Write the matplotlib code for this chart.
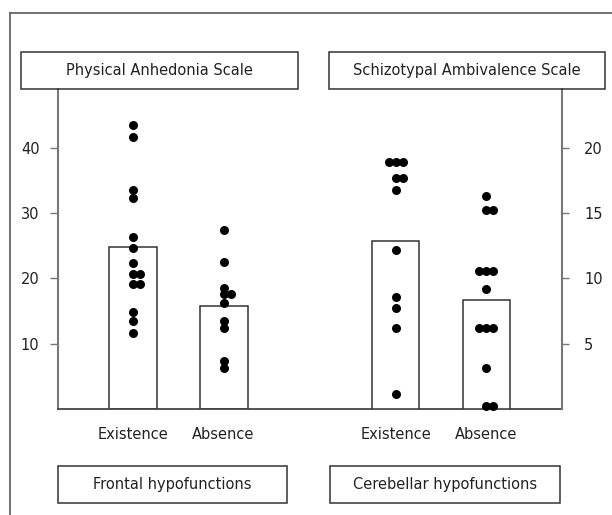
import matplotlib
matplotlib.use('Agg')
import matplotlib.pyplot as plt
from matplotlib.patches import Rectangle
from matplotlib.lines import Line2D
import numpy as np

# values
groups = ['Existence', 'Absence', 'Existence', 'Absence']
panel_titles = ['Physical Anhedonia Scale', 'Schizotypal Ambivalence Scale']
region_labels = ['Frontal hypofunctions', 'Cerebellar hypofunctions']

frontal_exist = [43.5, 41.6, 33.6, 32.3, 26.4, 24.6, 22.4, 20.7, 20.7, 19.2, 19.2, 14.8, 13.4, 11.6]
frontal_absent = [27.4, 22.5, 18.6, 17.6, 17.6, 16.3, 13.5, 12.4, 7.4, 6.3]
frontal_means = [24.8, 15.8]

cereb_exist = [18.9, 18.9, 18.9, 17.7, 17.7, 16.8, 12.2, 8.6, 7.7, 6.2, 1.15]
cereb_absent = [16.3, 15.2, 15.2, 10.6, 10.6, 10.6, 9.2, 6.2, 6.2, 6.2, 3.15, 0.2, 0.2]
cereb_means = [12.9, 8.35]

left_ticks = [10, 20, 30, 40]
right_ticks = [5, 10, 15, 20]

W, H = 612, 515
FONT = 'DejaVu Sans'
FS = 10.5


def fx(x):
    return x / W


def fy(y):
    return 1 - y / H


def swarm(values, centre, step):
    # equal values get spread: centre, right, left, ...
    xs = []
    seen = {}
    order = [0, 1, -1, 2, -2]
    for v in values:
        k = seen.get(v, 0)
        xs.append(centre + order[k] * step)
        seen[v] = k + 1
    return xs


fig = plt.figure(figsize=(6.12, 5.15), dpi=100)
ax = fig.add_axes([fx(58), fy(409), fx(562) - fx(58), fy(89) - fy(409)])
ax2 = ax.twinx()

pos = [0.82, 1.82, 3.71, 4.71]
bw = 0.527
step = 0.077

ax.set_xlim(0, 5.54)
ax.set_ylim(0, 49.0)
ax2.set_ylim(0, 24.5)

axis_col = '#777777'
edge_col = '#333333'

ax.bar(pos[:2], frontal_means, width=bw, color='white', edgecolor=edge_col, linewidth=1.1, zorder=2)
ax2.bar(pos[2:], cereb_means, width=bw, color='white', edgecolor=edge_col, linewidth=1.1, zorder=2)

for vals, p, a in [(frontal_exist, pos[0], ax), (frontal_absent, pos[1], ax),
                   (cereb_exist, pos[2], ax2), (cereb_absent, pos[3], ax2)]:
    a.scatter(swarm(vals, p, step), vals, s=42, color='black', zorder=3, clip_on=False, linewidths=0)

for a in (ax, ax2):
    a.spines['top'].set_visible(False)
ax.spines['right'].set_visible(False)
ax2.spines['left'].set_visible(False)
ax2.spines['bottom'].set_visible(False)
ax.spines['left'].set_color(axis_col)
ax.spines['left'].set_linewidth(1.5)
ax2.spines['right'].set_color(axis_col)
ax2.spines['right'].set_linewidth(1.5)
ax.spines['bottom'].set_color('#444444')
ax.spines['bottom'].set_linewidth(1.3)

ax.set_yticks(left_ticks)
ax.tick_params(axis='y', direction='out', length=5.8, width=1, color=axis_col, pad=7.5,
               labelsize=FS, labelcolor='#222222')
ax2.set_yticks(right_ticks)
ax2.tick_params(axis='y', direction='out', length=5.0, width=1, color=axis_col, pad=11,
                labelsize=FS, labelcolor='#222222')
ax.set_xticks(pos)
ax.set_xticklabels(groups)
ax.tick_params(axis='x', length=0, pad=13, labelsize=FS, labelcolor='#222222')
for t in ax.get_yticklabels() + ax2.get_yticklabels() + ax.get_xticklabels():
    t.set_fontfamily(FONT)

# label boxes
boxes = [(21, 52, 298, 89, panel_titles[0]),
         (329, 52, 605, 89, panel_titles[1]),
         (58, 466, 287, 503, region_labels[0]),
         (330, 466, 560, 503, region_labels[1])]
for x0, y0, x1, y1, txt in boxes:
    fig.add_artist(Rectangle((fx(x0), fy(y1)), fx(x1) - fx(x0), fy(y0) - fy(y1),
                             transform=fig.transFigure, fill=False, edgecolor=edge_col, linewidth=1.1))
    fig.text(fx((x0 + x1) / 2), fy((y0 + y1) / 2), txt, ha='center', va='center',
             fontsize=FS, family=FONT, color='#222222')

# outer frame (runs off the right and bottom edges)
fig.add_artist(Line2D([fx(10), fx(10)], [fy(13), 0], transform=fig.transFigure, color='#666666', linewidth=1.3))
fig.add_artist(Line2D([fx(10), 1], [fy(13), fy(13)], transform=fig.transFigure, color='#666666', linewidth=1.3))

fig.savefig('out.png', dpi=100)
